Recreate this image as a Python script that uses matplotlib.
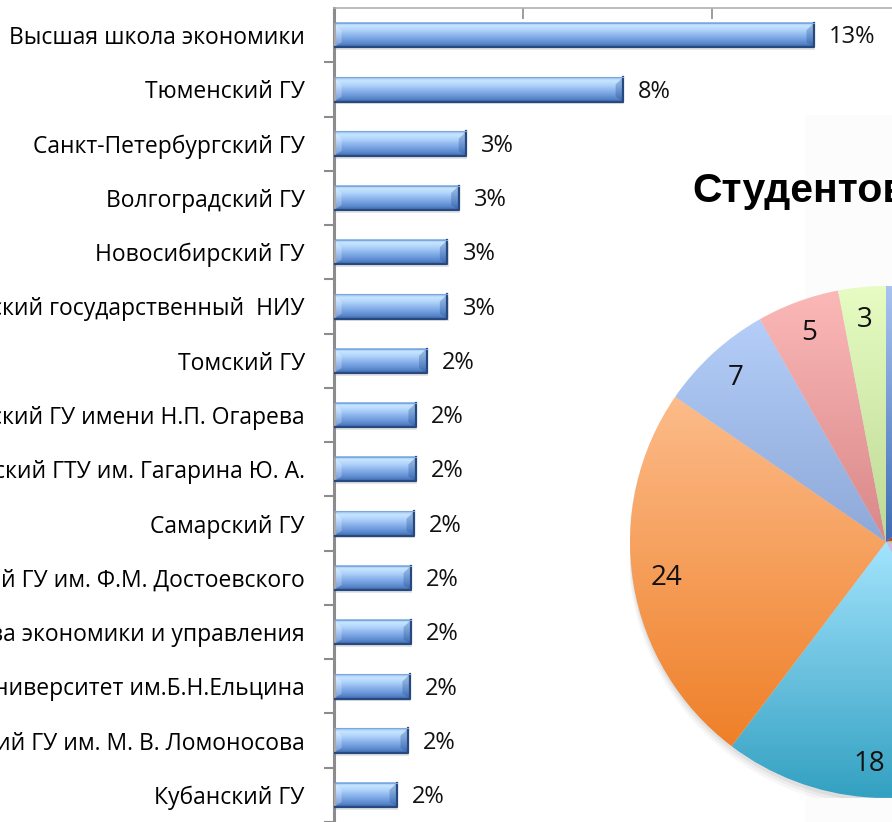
import numpy as np
import matplotlib
matplotlib.use("Agg")
import matplotlib.pyplot as plt
from matplotlib.colors import LinearSegmentedColormap
from matplotlib.patches import Rectangle, Polygon, Circle

plt.rcParams['font.family'] = ['Open Sans', 'DejaVu Sans']

# данные столбчатой диаграммы (видимая часть подписей)
universities = [
    "Высшая школа экономики",
    "Тюменский ГУ",
    "Санкт-Петербургский ГУ",
    "Волгоградский ГУ",
    "Новосибирский ГУ",
    "ский государственный  НИУ",
    "Томский ГУ",
    "ский ГУ имени Н.П. Огарева",
    "ский ГТУ им. Гагарина Ю. А.",
    "Самарский ГУ",
    "й ГУ им. Ф.М. Достоевского",
    "ва экономики и управления",
    "ниверситет им.Б.Н.Ельцина",
    "ий ГУ им. М. В. Ломоносова",
    "Кубанский ГУ",
]
shares = [12.7, 7.65, 3.5, 3.3, 3.0, 3.0, 2.45, 2.17, 2.17, 2.12, 2.04, 2.04, 2.01, 1.96, 1.67]
share_labels = ["13%", "8%", "3%", "3%", "3%", "3%", "2%", "2%", "2%", "2%",
                "2%", "2%", "2%", "2%", "2%"]

# данные круговой диаграммы (правая часть скрыта за краем)
pie_values = [14, 8, 6, 14.1, 18.2, 24.3, 7.2, 5.2, 3.0]
pie_labels = ["", "", "", "", "18", "24", "7", "5", "3"]
pie_top = ["#a9c3f0", "#e77b78", "#c9e08f", "#cbb9e6", "#a2e3fd", "#fcbb89", "#b4cef9", "#fbb8b7", "#e6fcc2"]
pie_bottom = ["#3f6db5", "#b8403c", "#8fb24c", "#8f72b8", "#34a1c2", "#ef8029", "#8ea8d8", "#d98889", "#bed995"]

W, H = 892, 822
fig = plt.figure(figsize=(W / 100, H / 100), dpi=100)
fig.patch.set_facecolor("white")

# едва заметный серый фон за круговой диаграммой
fig.patches.append(Rectangle((805 / W, 0), 1, (H - 115) / H, transform=fig.transFigure,
                             facecolor="#fcfcfc", edgecolor="none", zorder=-5))

# ---------- столбчатая диаграмма ----------
px = 37.8  # пикселей на 1%
xmax = 15
ax = fig.add_axes([334 / W, 0, xmax * px / W, (H - 8) / H])
ax.set_facecolor("none")
n = len(universities)
ax.set_xlim(0, xmax)
ax.set_ylim(-0.5 + (H - 8) / 54.6, -0.5)

bar_cmap = LinearSegmentedColormap.from_list(
    "bar", [(0.0, "#8db6ea"), (0.12, "#c8e6ff"), (0.3, "#b3d6fc"),
            (0.55, "#8ab3ec"), (0.85, "#5c8ad0"), (1.0, "#3e6aa8")])
grad = np.linspace(0, 1, 64).reshape(-1, 1)
bh = 0.45
bev = 0.2
for i, (v, lab) in enumerate(zip(shares, share_labels)):
    y0, y1 = i - bh / 2, i + bh / 2
    # тень
    ax.add_patch(Rectangle((0.03, y0 + 0.05), v, bh, facecolor="#000000", alpha=0.1,
                           edgecolor="none", zorder=1))
    ax.imshow(grad, cmap=bar_cmap, aspect="auto", extent=(0, v, y1, y0),
              interpolation="bicubic", zorder=2)
    # скосы по краям
    ax.add_patch(Polygon([(0, y0), (bev, y0 + bh * 0.3), (bev, y1 - bh * 0.2), (0, y1)],
                         closed=True, facecolor="#ffffff", alpha=0.25, edgecolor="none", zorder=3))
    ax.add_patch(Polygon([(v, y0), (v - bev, y0 + bh * 0.3), (v - bev, y1 - bh * 0.2), (v, y1)],
                         closed=True, facecolor="#1f4d8f", alpha=0.3, edgecolor="none", zorder=3))
    ax.plot([0, v, v], [y1, y1, y0], color="#27497f", lw=1.6, zorder=4)
    ax.plot([0, v], [y0, y0], color="#7fa6dc", lw=0.8, zorder=4)
    ax.text(v + 0.4, i + 0.04, lab, va="center", ha="left", fontsize=17, color="#111111", zorder=5)

ax.set_yticks(range(n), universities, fontsize=16.5)
ax.set_yticks(np.arange(n) + 0.5, minor=True)
ax.tick_params(axis="y", which="major", length=0, pad=21)
ax.tick_params(axis="y", which="minor", length=7, width=1.5, color="#8c8c8c", direction="out")
ax.xaxis.tick_top()
ax.set_xticks([0, 5, 10, 15])
ax.tick_params(axis="x", which="major", length=8, width=1.2, color="#8c8c8c",
               direction="in", labeltop=False, labelbottom=False)
for s in ["right", "bottom"]:
    ax.spines[s].set_visible(False)
ax.spines["left"].set_color("#8c8c8c")
ax.spines["left"].set_linewidth(2.2)
ax.spines["top"].set_color("#b0b0b0")
ax.spines["top"].set_linewidth(1.2)

# ---------- круговая диаграмма ----------
cx, cy, r = 886, 542, 256
pax = fig.add_axes([(cx - r) / W, (H - cy - r) / H, 2 * r / W, 2 * r / H])
pax.set_facecolor("none")
pax.axis("off")

for k, a in enumerate([0.05, 0.04, 0.03]):
    pax.add_patch(Circle((0.0, -0.015 - 0.008 * k), 1.0 + 0.004 * k, facecolor="#000000",
                         alpha=a, edgecolor="none", zorder=0))

wedges, _ = pax.pie(pie_values, startangle=90, counterclock=False, radius=1,
                    wedgeprops=dict(linewidth=0))
for w, c0, c1 in zip(wedges, pie_top, pie_bottom):
    w.set_facecolor("none")
    bb = w.get_path().get_extents()
    cm = LinearSegmentedColormap.from_list("w", [c0, c1])
    im = pax.imshow(grad, cmap=cm, aspect="auto", interpolation="bicubic",
                    extent=(bb.x0, bb.x1, bb.y0, bb.y1), zorder=1)
    im.set_clip_path(w)

# подписи секторов
total = sum(pie_values)
ang = 90.0
for v, lab in zip(pie_values, pie_labels):
    mid = np.deg2rad(ang - v / total * 180)
    ang -= v / total * 360
    if lab:
        pax.text(0.87 * np.cos(mid), 0.87 * np.sin(mid), lab, ha="center", va="center",
                 fontsize=20, color="#111111", zorder=3)

pax.set_xlim(-1, 1)
pax.set_ylim(-1, 1)

fig.text(692 / W, (H - 202) / H, "Студентов", fontsize=29.5, fontweight="bold",
         family=["Liberation Sans", "DejaVu Sans"], ha="left", va="baseline", color="#000000")

fig.savefig("out.png", dpi=100)
